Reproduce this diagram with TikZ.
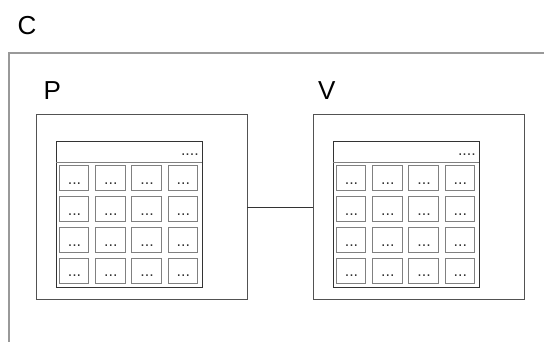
\documentclass[tikz,border=0pt]{standalone}
\usepackage{fontspec}
\setmainfont{Liberation Sans}
\begin{document}
\begin{tikzpicture}[x=1pt,y=-1pt,
  cbox/.style={draw=black!40, line width=1.3pt, inner sep=0pt, outer sep=0pt},
  obox/.style={draw=black!68, line width=1pt, inner sep=0pt, outer sep=0pt, minimum width=211pt, minimum height=184pt, anchor=north west},
  tbox/.style={draw=black!80, line width=1pt, inner sep=0pt, outer sep=0pt, minimum width=146pt, minimum height=145pt, anchor=north west},
  cell/.style={draw=black!50, line width=1pt, inner sep=0pt, outer sep=0pt, minimum width=29.4pt, minimum height=25pt, anchor=north west},
  big/.style={font=\fontsize{26}{28}\selectfont, inner sep=0pt, anchor=base west},
  dots/.style={font=\fontsize{16}{16}\selectfont, inner sep=0pt, anchor=base east, text=black!80},
  cdots/.style={font=\fontsize{16}{16}\selectfont, inner sep=0pt, anchor=base, text=black!80},
  sep/.style={draw=black!50, line width=1pt},
  conn/.style={draw=black!80, line width=0.8pt}]
\useasboundingbox (0,0) rectangle (544,342);
\node[cbox, minimum width=600pt, minimum height=320pt, anchor=north west] (C) at (9,53) {};
\node[big] (Clab) at (17.5,35) {C};
\node[big] (Plab) at (43.5,99.5) {P};
\node[big] (Vlab) at (318,99.5) {V};
\foreach \nm/\ox in {p/0, v/277} {
  \node[obox] (\nm box) at (36+\ox,115) {};
  \node[tbox] (\nm tab) at (56+\ox,142) {};
  \coordinate (\nm sl) at (56+\ox,163);
  \coordinate (\nm sr) at (202+\ox,163);
  \draw[sep] (\nm sl) -- (\nm sr);
  \node[dots] (\nm head) at (199+\ox,156) {....};
  \foreach \r/\y in {1/166, 2/196.8, 3/227.6, 4/258.4} {
    \foreach \c/\x in {1/59.3, 2/95.6, 3/131.9, 4/168.2} {
      \node[cell] (\nm c\r\c) at (\x+\ox,\y) {};
      \node[cdots] at ([xshift=0.5pt,yshift=6.5pt]\nm c\r\c.south) {...};
    }
  }
}
\draw[conn] (pbox.east) -- (vbox.west);
\end{tikzpicture}
\end{document}
